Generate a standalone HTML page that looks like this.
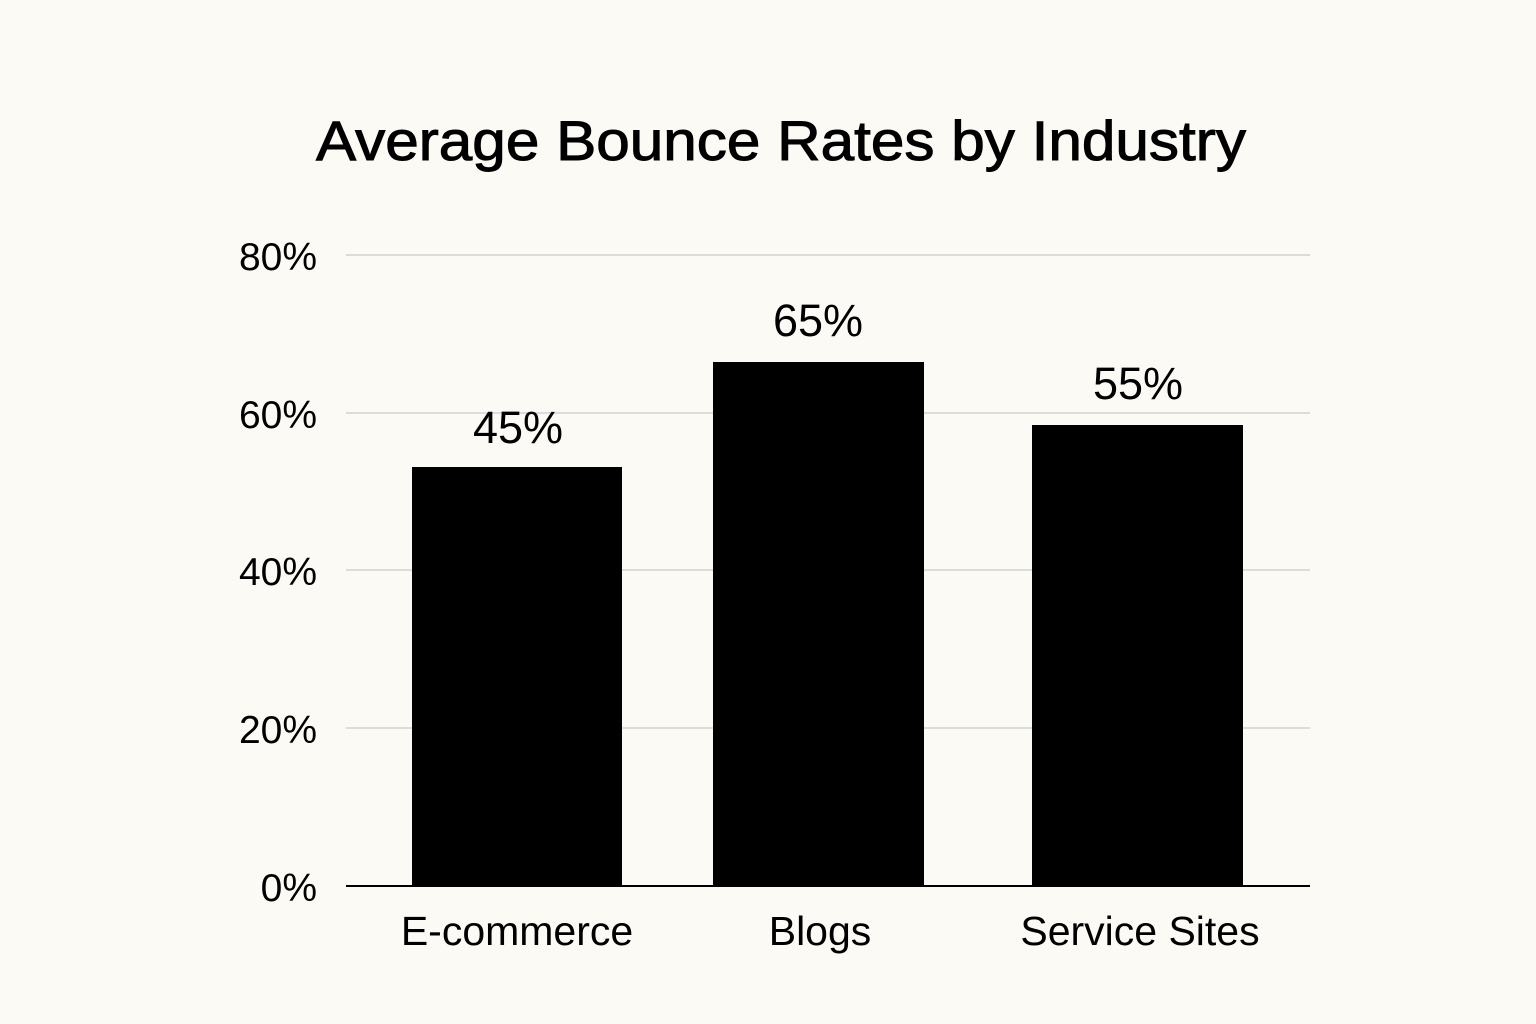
<!DOCTYPE html>
<html><head><meta charset="utf-8"><style>
html,body{margin:0;padding:0;background:#fcfaf5;}
svg{display:block}
text{font-family:"Liberation Sans",sans-serif;fill:#000}
</style></head><body>
<svg width="1536" height="1024" viewBox="0 0 1536 1024">
<rect width="1536" height="1024" fill="#fcfaf5"/>
<text x="781" y="160" font-size="56" text-anchor="middle" textLength="930" lengthAdjust="spacingAndGlyphs" stroke="#000" stroke-width="1">Average Bounce Rates by Industry</text>
<g stroke="#dcdcdc" stroke-width="2">
<line x1="346" y1="255" x2="1310" y2="255"/>
<line x1="346" y1="413" x2="1310" y2="413"/>
<line x1="346" y1="570" x2="1310" y2="570"/>
<line x1="346" y1="728" x2="1310" y2="728"/>
</g>
<g font-size="39" text-anchor="end">
<text x="317" y="270">80%</text>
<text x="317" y="428">60%</text>
<text x="317" y="585">40%</text>
<text x="317" y="743">20%</text>
<text x="317" y="901">0%</text>
</g>
<rect x="412" y="467" width="210" height="419" fill="#000"/>
<rect x="713" y="362" width="211" height="524" fill="#000"/>
<rect x="1032" y="425" width="211" height="461" fill="#000"/>
<line x1="346" y1="886" x2="1310" y2="886" stroke="#000" stroke-width="2"/>
<g font-size="45" text-anchor="middle">
<text x="518" y="443">45%</text>
<text x="818" y="336">65%</text>
<text x="1138" y="399">55%</text>
</g>
<g font-size="41" text-anchor="middle">
<text x="517" y="945">E-commerce</text>
<text x="820" y="945">Blogs</text>
<text x="1140" y="945">Service Sites</text>
</g>
</svg>
</body></html>
